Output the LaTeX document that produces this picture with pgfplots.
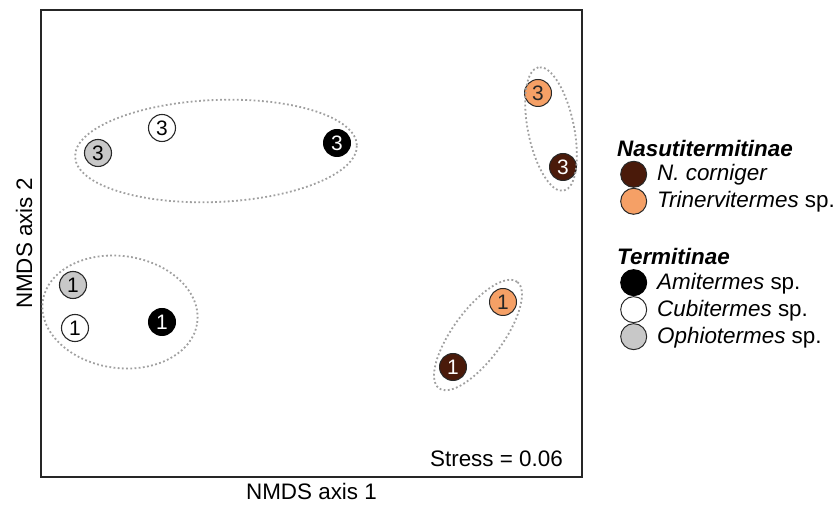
\documentclass[border=0pt]{standalone}
\usepackage{pgfplots}
\pgfplotsset{compat=1.18}
\usepackage{fontspec}
\setmainfont{Liberation Sans}
\definecolor{brownc}{RGB}{74,26,10}
\definecolor{orangec}{RGB}{245,160,102}
\definecolor{grayc}{RGB}{200,200,200}
\definecolor{outl}{RGB}{40,40,40}
\definecolor{ellc}{RGB}{160,160,160}
\tikzset{ell/.style={ellc, line width=1.8bp, dash pattern=on 1.8bp off 2.4bp}}
\begin{document}
\fontsize{22.5}{27}\selectfont
\begin{tikzpicture}
\useasboundingbox (-41bp,-29bp) rectangle (798bp,477bp);
\begin{axis}[at={(0,0)}, anchor=south west, scale only axis,
  width=541bp, height=467bp,
  xmin=41, xmax=582, ymin=-477, ymax=-10,
  axis line style={line width=1.3bp, black!85},
  ticks=none, clip=false,
  xlabel={NMDS axis 1}, ylabel={NMDS axis 2},
  xlabel style={at={(axis description cs:0.5,-0.032)}, anchor=center},
  ylabel style={at={(axis description cs:-0.0314,0.5)}, anchor=center},
  point meta=explicit symbolic,
  nodes near coords, nodes near coords align={center},
  every node near coord/.append style={font=\fontsize{21}{24}\selectfont, inner sep=0pt},
  legend cell align=left,
  legend style={draw=none, fill=none, inner sep=0pt,
    at={(axis description cs:1.0702,0.7238)}, anchor=north west,
    nodes={inner sep=1bp},
    /tikz/every odd column/.append style={column sep=9bp},
    row sep=0pt},
]
% Nasutitermitinae: N. corniger
\addplot[forget plot, only marks, mark=*, mark size=13.5bp,
  mark options={fill=brownc, draw=outl, line width=1bp},
  every node near coord/.append style={text=white}]
  coordinates {(563,-167) [3] (453,-367) [1]};
% Trinervitermes sp.
\addplot[forget plot, only marks, mark=*, mark size=13.5bp,
  mark options={fill=orangec, draw=outl, line width=1bp},
  every node near coord/.append style={text=black!85}]
  coordinates {(538,-93) [3] (503,-302) [1]};
% Amitermes sp.
\addplot[forget plot, only marks, mark=*, mark size=13.5bp,
  mark options={fill=black, draw=black, line width=1bp},
  every node near coord/.append style={text=white}]
  coordinates {(337,-143) [3] (162,-322) [1]};
% Cubitermes sp.
\addplot[forget plot, only marks, mark=*, mark size=13.5bp,
  mark options={fill=white, draw=outl, line width=1.1bp},
  every node near coord/.append style={text=black}]
  coordinates {(162,-128) [3] (75,-328) [1]};
% Ophiotermes sp.
\addplot[forget plot, only marks, mark=*, mark size=13.5bp,
  mark options={fill=grayc, draw=outl, line width=1.1bp},
  every node near coord/.append style={text=black}]
  coordinates {(98,-153) [3] (73,-285) [1]};

\addlegendimage{empty legend}
\addlegendentry{\hspace*{-40bp}\rule[-10bp]{0pt}{0pt}\textbf{\textit{Nasutitermitinae}}}
\addlegendimage{legend image code/.code={\filldraw[fill=brownc, draw=outl, line width=1bp] (0bp,0bp) circle (13bp);}}
\addlegendentry{\textit{N. corniger}}
\addlegendimage{legend image code/.code={\filldraw[fill=orangec, draw=outl, line width=1bp] (0bp,0bp) circle (13bp);}}
\addlegendentry{\textit{Trinervitermes} sp.}
\addlegendimage{empty legend}
\addlegendentry{\hspace*{-40bp}\rule[-11bp]{0pt}{60bp}\textbf{\textit{Termitinae}}}
\addlegendimage{legend image code/.code={\filldraw[fill=black, draw=black, line width=1bp] (0bp,0bp) circle (13bp);}}
\addlegendentry{\textit{Amitermes} sp.}
\addlegendimage{legend image code/.code={\filldraw[fill=white, draw=outl, line width=1bp] (0bp,0bp) circle (13bp);}}
\addlegendentry{\textit{Cubitermes} sp.}
\addlegendimage{legend image code/.code={\filldraw[fill=grayc, draw=outl, line width=1bp] (0bp,0bp) circle (13bp);}}
\addlegendentry{\textit{Ophiotermes} sp.}

\coordinate (c1) at (axis cs:216,-151);
\coordinate (c2) at (axis cs:120,-312);
\coordinate (c3) at (axis cs:551,-129);
\coordinate (c4) at (axis cs:478,-335);
\node[anchor=base east, inner sep=0pt] at (axis cs:563,-466) {Stress = 0.06};
\end{axis}
\draw[ell, rotate around={2.4:(c1)}] (c1) ellipse [x radius=141bp, y radius=51bp];
\draw[ell, rotate around={-8:(c2)}] (c2) ellipse [x radius=78bp, y radius=56bp];
\draw[ell, rotate around={101.6:(c3)}] (c3) ellipse [x radius=63bp, y radius=23bp];
\draw[ell, rotate around={53.7:(c4)}] (c4) ellipse [x radius=66bp, y radius=25bp];
\end{tikzpicture}
\end{document}
